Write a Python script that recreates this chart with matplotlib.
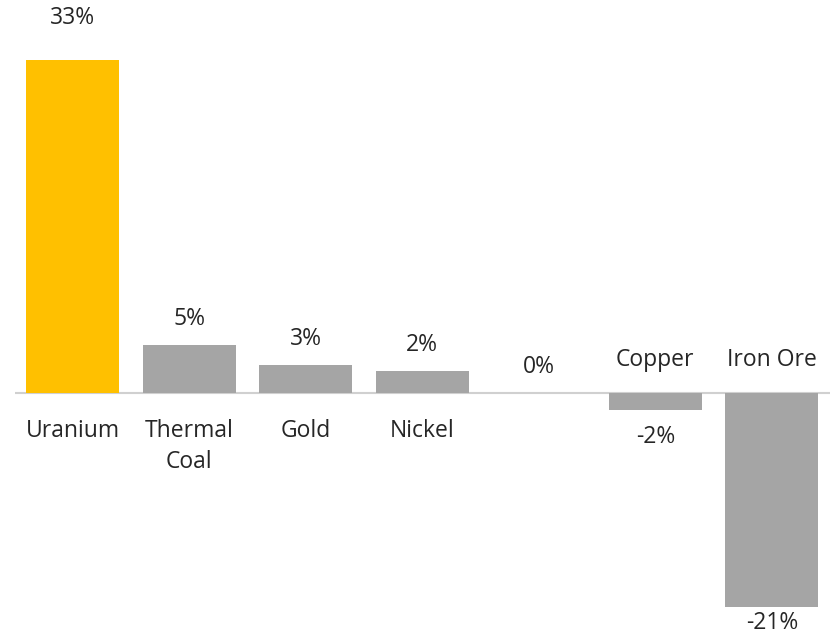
import matplotlib
matplotlib.use("Agg")
import matplotlib.pyplot as plt

categories = ["Uranium", "Thermal\nCoal", "Gold", "Nickel", "", "Copper", "Iron Ore"]
values = [33, 4.7, 2.8, 2.2, 0, -1.7, -21.2]
labels = ["33%", "5%", "3%", "2%", "0%", "-2%", "-21%"]
colors = ["#FFC000", "#A5A5A5", "#A5A5A5", "#A5A5A5", "#A5A5A5", "#A5A5A5", "#A5A5A5"]

plt.rcParams["font.family"] = ["Open Sans", "DejaVu Sans"]

fig = plt.figure(figsize=(8.3, 6.36), dpi=100)
ax = fig.add_axes([0.0176, 0, 0.9824, 1])
xs = range(len(categories))
ax.bar(xs, values, width=0.8, color=colors, zorder=2)
ax.axhline(0, color="#D0D0D0", linewidth=1.5, zorder=1)
ax.set_xlim(-0.5, len(categories) - 0.5)
ax.set_ylim(-24.06, 38.9)
ax.axis("off")

px = 0.72  # pixels -> points
txt = dict(fontsize=16.5, color="#262626", ha="center")
for x, v, lab, cat in zip(xs, values, labels, categories):
    if v >= 0:
        off = 42 if v > 20 else 26
        ax.annotate(lab, (x, v), xytext=(0, off * px), textcoords="offset points",
                    va="center", **txt)
        ax.annotate(cat, (x, 0), xytext=(0, -26 * px), textcoords="offset points",
                    va="top", linespacing=1.4, **txt)
    else:
        off = -16 if v < -20 else -27
        ax.annotate(lab, (x, v), xytext=(0, off * px), textcoords="offset points",
                    va="center", **txt)
        ax.annotate(cat, (x, 0), xytext=(0, 33 * px), textcoords="offset points",
                    va="center", **txt)

fig.savefig("out.png", dpi=100)
